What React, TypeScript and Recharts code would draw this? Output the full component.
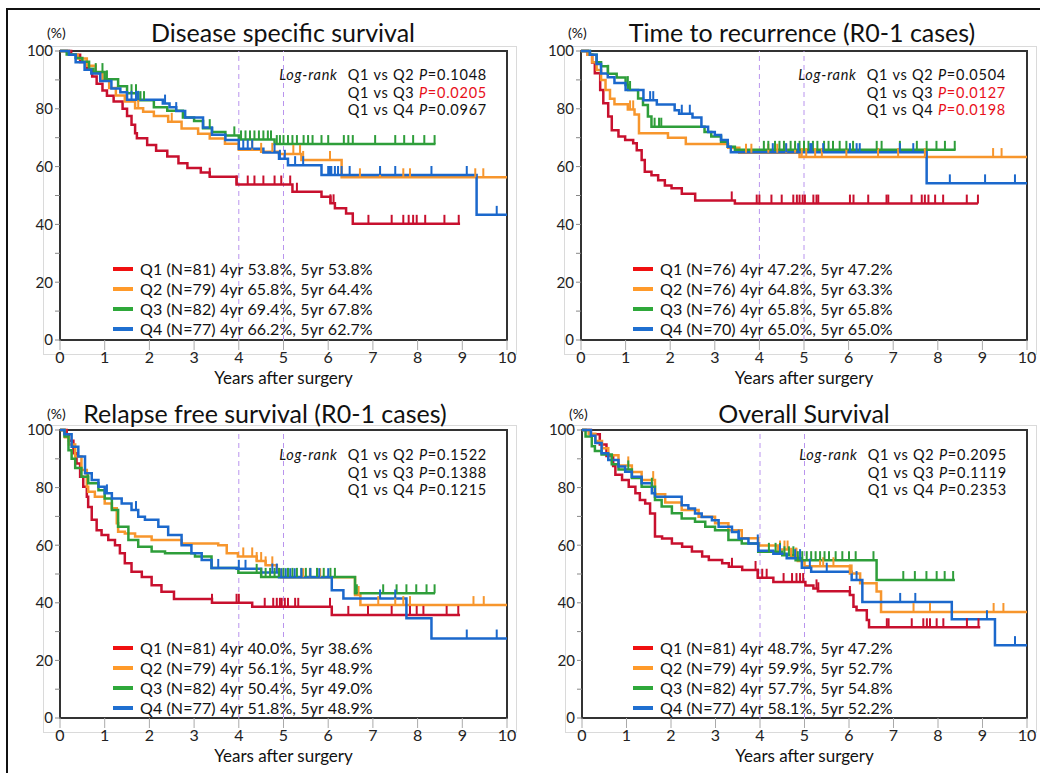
import React from "react";
import { ComposedChart, Line, Scatter, XAxis, YAxis, ReferenceLine, ReferenceArea } from "recharts";

type Step = [number, number];

// ----- Disease specific survival -----
const dssQ1Steps: Step[] = [[0,100],[0.25,98.7],[0.45,96.2],[0.6,93.7],[0.72,91.2],[0.82,88.7],[0.95,86.3],[1.05,84.5],[1.2,82.5],[1.4,80],[1.5,77.5],[1.6,74.5],[1.68,71.5],[1.72,69.8],[1.95,67.5],[2.15,65.5],[2.4,63.5],[2.65,61.2],[2.85,59.5],[3.15,58],[3.35,56.5],[3.95,53.8],[5.2,51.3],[5.85,49.6],[6.05,47.3],[6.15,45.6],[6.4,43.8],[6.55,40.2]];
const dssQ1Censor = [3.35,3.95,4.2,4.35,4.55,4.8,4.95,5.15,5.3,6.05,6.12,6.9,7.42,7.68,7.8,7.9,7.98,8.17,8.6,8.92];
const dssQ2Steps: Step[] = [[0,100],[0.2,98.7],[0.4,97.4],[0.6,94.9],[0.8,92.3],[0.95,89.7],[1.1,87.2],[1.25,84.6],[1.45,82.5],[1.68,80.2],[1.86,79],[2.1,77.5],[2.42,75.5],[2.72,73.2],[3.09,71.4],[3.35,69.7],[3.69,67.9],[4.0,65.8],[4.5,65.1],[4.9,64.4],[5.4,62.3],[6.3,56.3]];
const dssQ2Censor = [1.75,2.5,4.3,4.5,4.75,5.22,5.37,5.44,6.04,6.71,7.16,7.68,7.83,9.29,9.47];
const dssQ3Steps: Step[] = [[0,100],[0.15,98.8],[0.35,97.6],[0.5,96.3],[0.65,93.9],[0.75,92.7],[1.0,90.2],[1.3,87.8],[1.5,85.4],[1.75,83],[2.1,80.5],[2.4,79.3],[2.75,77],[3.0,75.8],[3.2,73.3],[3.4,72],[3.7,70.8],[4.0,69.4],[4.8,67.8]];
const dssQ3Censor = [0.8,0.95,1.05,1.6,1.7,1.75,1.8,1.88,3.35,3.9,4.05,4.15,4.25,4.35,4.45,4.55,4.65,4.72,4.85,4.92,5.0,5.1,5.2,5.3,5.45,5.55,5.65,5.85,6.0,6.35,6.45,6.55,7.05,7.5,7.7,7.9,8.15,8.38];
const dssQ4Steps: Step[] = [[0,100],[0.2,98.7],[0.35,96.1],[0.55,93.5],[0.7,92.2],[0.9,89.6],[1.15,87],[1.35,85.7],[1.5,83.1],[2.3,81.8],[2.45,80.5],[2.6,79.2],[2.8,77],[3.2,73.5],[3.4,71],[3.7,69.2],[4.0,66.2],[4.55,64.9],[4.9,62.7],[5.1,60.5],[5.85,57.1],[9.32,43.3]];
const dssQ4Censor = [1.6,1.7,1.75,2.35,2.6,4.1,4.2,4.3,4.8,4.92,5.03,5.26,5.44,6.0,6.04,6.07,6.15,6.22,6.3,6.48,7.16,7.5,8.31,9.1,9.77];

// ----- Time to recurrence -----
const ttrQ1Steps: Step[] = [[0,100],[0.15,98.7],[0.25,96],[0.31,92.3],[0.43,86.5],[0.5,81.9],[0.61,77.3],[0.69,72.6],[0.84,70.4],[0.99,69.2],[1.17,68.1],[1.25,65.7],[1.36,62.3],[1.43,58.2],[1.58,57],[1.73,55.3],[1.88,53.5],[2.03,52.5],[2.26,50.6],[2.56,48.3],[3.45,47.2]];
const ttrQ1Censor = [3.38,3.94,4.0,4.27,4.5,4.76,4.84,4.9,4.97,5.02,5.21,5.28,5.32,6.03,6.11,6.44,6.85,6.89,7.41,7.64,7.71,7.79,7.94,8.12,8.65,8.9];
const ttrQ2Steps: Step[] = [[0,100],[0.15,98.7],[0.25,96.1],[0.35,93.4],[0.45,90],[0.55,86.5],[0.65,83.5],[0.75,81.6],[1.05,79.8],[1.2,78],[1.3,71.5],[1.95,70],[2.35,67.8],[3.3,66.5],[3.55,64.8],[4.9,63.3]];
const ttrQ2Censor = [1.1,1.17,3.7,3.82,4.2,4.4,4.6,4.8,4.95,5.05,5.25,5.4,5.95,6.66,7.11,7.71,9.24,9.43];
const ttrQ3Steps: Step[] = [[0,100],[0.2,98.7],[0.35,96.1],[0.45,94.7],[0.6,92.1],[0.8,90.8],[1.0,88.2],[1.06,86.5],[1.28,83.6],[1.39,81.3],[1.5,77.3],[1.58,73.8],[2.77,72],[2.92,70.4],[3.14,68.6],[3.29,66.9],[3.45,65.8]];
const ttrQ3Censor = [0.61,1.05,1.1,1.65,1.75,1.8,4.1,4.2,4.35,4.45,4.55,4.7,4.8,4.9,5.0,5.1,5.2,5.3,5.45,5.55,5.65,5.8,5.95,6.1,6.63,6.74,7.15,7.53,7.75,7.97,8.16,8.38];
const ttrQ4Steps: Step[] = [[0,100],[0.2,98.7],[0.35,95.5],[0.45,92.2],[0.6,90.9],[0.75,88.9],[1.0,86.5],[1.4,83],[1.7,81.5],[2.1,79.5],[2.2,78.3],[2.5,77],[2.7,73.8],[2.85,72],[3.0,70.9],[3.14,69.2],[3.29,66.9],[3.36,65],[7.75,54.2]];
const ttrQ4Censor = [1.55,1.62,2.26,2.44,4.3,4.6,4.87,5.14,5.17,5.43,6.03,6.18,6.25,7.15,7.45,8.27,9.06,9.73];

// ----- Relapse free survival -----
const rfsQ1Steps: Step[] = [[0,100],[0.15,98.5],[0.2,96.3],[0.3,91.9],[0.37,88.4],[0.45,83.8],[0.52,80.3],[0.6,76.8],[0.63,73.3],[0.71,68.8],[0.82,65.2],[0.93,63.5],[1.08,61.8],[1.23,60],[1.34,57.2],[1.45,53.7],[1.6,50.8],[1.83,49],[2.05,46.1],[2.27,43.8],[2.55,41.3],[3.4,40.0],[4.3,38.6],[6.08,35.8]];
const rfsQ1Censor = [3.4,3.95,4.0,4.58,4.77,4.85,4.92,4.96,5.03,5.1,5.26,5.33,6.04,6.45,6.89,7.42,7.83,7.98,8.13,8.65,8.91];
const rfsQ2Steps: Step[] = [[0,100],[0.11,97.5],[0.2,95],[0.34,90.8],[0.48,86.1],[0.6,80.3],[0.63,78.6],[0.78,76.8],[1.0,74.5],[1.16,72.8],[1.27,67.6],[1.3,64.7],[1.45,64.1],[1.68,63],[2.05,61.8],[2.72,60.6],[3.54,60],[3.73,57.2],[3.98,56.1],[4.4,54.5],[4.6,53],[4.85,51.5],[4.95,48.9],[6.6,42.7],[6.72,39.2]];
const rfsQ2Censor = [4.1,4.3,4.4,4.5,4.6,4.75,5.44,5.59,5.82,6.68,7.12,7.5,7.68,7.83,9.25,9.48];
const rfsQ3Steps: Step[] = [[0,100],[0.1,97.7],[0.19,93],[0.26,90],[0.34,86.8],[0.48,83.8],[0.63,81.5],[0.86,79.1],[1.0,76.2],[1.16,72.2],[1.3,66.4],[1.53,61.8],[1.75,59.5],[2.05,57.8],[2.35,57.2],[3.02,56.1],[3.39,52.1],[3.99,50.4],[4.5,49],[6.6,43.3]];
const rfsQ3Censor = [0.63,4.4,4.5,4.6,4.7,4.8,4.9,5.0,5.1,5.2,5.3,5.4,5.5,5.6,5.75,5.9,6.05,6.15,6.64,7.23,7.53,7.75,7.97,8.2,8.38];
const rfsQ4Steps: Step[] = [[0,100],[0.1,98.5],[0.26,94.2],[0.41,90.8],[0.56,85],[0.71,82.6],[0.86,80.3],[1.0,78],[1.16,76.2],[1.38,74.5],[1.6,72.2],[1.75,69.9],[1.9,68.8],[2.2,66.4],[2.42,63.5],[2.72,60],[2.94,57.2],[3.17,54.9],[3.39,52.1],[3.95,51.8],[4.5,50.5],[4.9,48.9],[6.08,44.4],[6.34,41.5],[7.75,34.6],[8.31,27.6]];
const rfsQ4Censor = [1.05,1.7,3.54,4.0,4.15,4.75,4.85,4.95,5.05,5.15,5.25,5.4,5.6,5.8,6.0,7.16,7.5,9.1,9.77];

// ----- Overall survival -----
const osQ1Steps: Step[] = [[0,100],[0.2,98.5],[0.4,95],[0.55,91],[0.7,87.5],[0.75,84.5],[0.9,82.6],[1.05,80.3],[1.2,78],[1.3,75.7],[1.42,74.5],[1.53,71],[1.64,63],[1.8,62.3],[2.02,60.6],[2.25,59.5],[2.47,57.8],[2.7,56.1],[2.85,54.9],[3.15,53.7],[3.3,52.5],[3.6,51.4],[3.95,48.7],[4.3,47.2],[5.02,46],[5.2,45],[5.3,44],[6.02,42.7],[6.1,38.6],[6.17,37.4],[6.4,34],[6.45,31.5]];
const osQ1Censor = [3.37,3.9,3.95,4.05,4.15,4.53,4.72,4.82,4.9,4.97,5.27,5.31,6.02,6.85,6.89,7.41,7.67,7.75,7.82,7.97,8.12,8.65,8.91];
const osQ2Steps: Step[] = [[0,100],[0.15,98.7],[0.3,96.2],[0.45,93.7],[0.59,91.2],[0.82,87.7],[1.12,85.4],[1.34,82.6],[1.64,77.7],[1.87,74.8],[2.24,72.2],[2.62,69.9],[2.99,67.6],[3.29,65.2],[3.59,62.4],[3.96,59.9],[4.4,58.5],[4.7,56],[4.85,54.5],[5.0,52.7],[6.02,50.2],[6.25,46.8],[6.62,43.9],[6.72,36.8]];
const osQ2Censor = [1.04,1.6,4.45,4.55,4.62,4.7,4.8,4.82,5.35,5.42,5.65,6.02,6.06,7.45,7.82,9.25,9.47];
const osQ3Steps: Step[] = [[0,100],[0.08,97.7],[0.22,94.4],[0.29,92.7],[0.44,91.5],[0.67,88.1],[0.82,86.3],[1.12,83.3],[1.34,80.3],[1.64,75.7],[1.79,73.4],[2.02,71.1],[2.24,69.3],[2.54,68.1],[2.77,66.4],[2.99,65.2],[3.29,61.8],[3.59,60.6],[3.96,57.7],[4.5,56.5],[4.8,54.8],[6.62,47.9]];
const osQ3Censor = [0.67,1.04,1.57,1.64,4.2,4.35,4.45,4.55,4.65,4.75,4.85,4.95,5.05,5.15,5.25,5.35,5.45,5.55,5.7,5.85,6.0,6.15,6.55,7.22,7.48,7.74,7.97,8.15,8.34];
const osQ4Steps: Step[] = [[0,100],[0.2,98],[0.3,95.5],[0.44,91.9],[0.59,89.6],[0.82,87.3],[0.97,85.5],[1.12,83.8],[1.34,81.5],[1.57,78],[1.64,76.8],[2.24,73.9],[2.39,72.7],[2.54,71],[2.69,69.8],[2.92,68.7],[3.07,66.4],[3.37,64.6],[3.52,62.3],[3.74,60.6],[3.96,58.1],[4.3,57],[4.6,55.5],[4.94,52.2],[5.15,50.8],[6.06,47.9],[6.3,40.3],[8.31,34.3],[9.28,25.3]];
const osQ4Censor = [1.64,3.52,3.95,4.45,4.79,4.9,5.12,5.5,6.17,7.15,7.49,9.1,9.73];

// last follow-up time of each group (Q1..Q4)
const dssEnd = [8.95, 10, 8.4, 10];
const ttrEnd = [8.9, 10, 8.4, 10];
const rfsEnd = [8.95, 10, 8.39, 10];
const osEnd = [8.95, 10, 8.38, 10];

const titles = ["Disease specific survival", "Time to recurrence (R0-1 cases)", "Relapse free survival (R0-1 cases)", "Overall Survival"];
const groupNames = ["Q1", "Q2", "Q3", "Q4"];
const dssLegend = ["Q1 (N=81) 4yr 53.8%, 5yr 53.8%", "Q2 (N=79) 4yr 65.8%, 5yr 64.4%", "Q3 (N=82) 4yr 69.4%, 5yr 67.8%", "Q4 (N=77) 4yr 66.2%, 5yr 62.7%"];
const ttrLegend = ["Q1 (N=76) 4yr 47.2%, 5yr 47.2%", "Q2 (N=76) 4yr 64.8%, 5yr 63.3%", "Q3 (N=76) 4yr 65.8%, 5yr 65.8%", "Q4 (N=70) 4yr 65.0%, 5yr 65.0%"];
const rfsLegend = ["Q1 (N=81) 4yr 40.0%, 5yr 38.6%", "Q2 (N=79) 4yr 56.1%, 5yr 48.9%", "Q3 (N=82) 4yr 50.4%, 5yr 49.0%", "Q4 (N=77) 4yr 51.8%, 5yr 48.9%"];
const osLegend = ["Q1 (N=81) 4yr 48.7%, 5yr 47.2%", "Q2 (N=79) 4yr 59.9%, 5yr 52.7%", "Q3 (N=82) 4yr 57.7%, 5yr 54.8%", "Q4 (N=77) 4yr 58.1%, 5yr 52.2%"];
const dssP = ["0.1048", "0.0205", "0.0967"];
const ttrP = ["0.0504", "0.0127", "0.0198"];
const rfsP = ["0.1522", "0.1388", "0.1215"];
const osP = ["0.2095", "0.1119", "0.2353"];

const xTicks = [0, 1, 2, 3, 4, 5, 6, 7, 8, 9, 10];
const yTicks = [0, 10, 20, 30, 40, 50, 60, 70, 80, 90, 100];

const FONT = "Lato, 'Open Sans', sans-serif";
const lineColors = ["#c8102e", "#f7962d", "#2e9e3a", "#1b68cc"];
const legendColors = ["#f01010", "#ff9a2a", "#2ea83a", "#1f6fd0"];
const DASH = "#b994ee";

function valueAt(steps: Step[], t: number) {
  let v = steps[0][1];
  for (const [st, sv] of steps) if (st <= t) v = sv;
  return v;
}

function buildSeries(steps: Step[][], censors: number[][], ends: number[]) {
  return steps.map((st, i) => ({
    line: [...st.map(([t, s]) => ({ t, s })), { t: ends[i], s: st[st.length - 1][1] }],
    censor: censors[i].map((t) => ({ t, s: valueAt(st, t) })),
    color: lineColors[i],
  }));
}

const panels = [
  {
    title: titles[0], left: 60, top: 51, w: 447, h: 289, titleX: 283, titleY: 32,
    series: buildSeries([dssQ1Steps, dssQ2Steps, dssQ3Steps, dssQ4Steps], [dssQ1Censor, dssQ2Censor, dssQ3Censor, dssQ4Censor], dssEnd),
    legend: dssLegend, pvals: dssP, sig: [false, true, false], legendX: 113, legendY: 269, logRight: 487, logY: 75,
  },
  {
    title: titles[1], left: 581, top: 51, w: 446, h: 289, titleX: 802, titleY: 32,
    series: buildSeries([ttrQ1Steps, ttrQ2Steps, ttrQ3Steps, ttrQ4Steps], [ttrQ1Censor, ttrQ2Censor, ttrQ3Censor, ttrQ4Censor], ttrEnd),
    legend: ttrLegend, pvals: ttrP, sig: [false, true, true], legendX: 633, legendY: 269, logRight: 1006, logY: 75,
  },
  {
    title: titles[2], left: 60, top: 430, w: 447, h: 288, titleX: 265, titleY: 413,
    series: buildSeries([rfsQ1Steps, rfsQ2Steps, rfsQ3Steps, rfsQ4Steps], [rfsQ1Censor, rfsQ2Censor, rfsQ3Censor, rfsQ4Censor], rfsEnd),
    legend: rfsLegend, pvals: rfsP, sig: [false, false, false], legendX: 113, legendY: 648, logRight: 487, logY: 455,
  },
  {
    title: titles[3], left: 582, top: 430, w: 445, h: 288, titleX: 804, titleY: 413,
    series: buildSeries([osQ1Steps, osQ2Steps, osQ3Steps, osQ4Steps], [osQ1Censor, osQ2Censor, osQ3Censor, osQ4Censor], osEnd),
    legend: osLegend, pvals: osP, sig: [false, false, false], legendX: 633, legendY: 648, logRight: 1007, logY: 455,
  },
];

const abs = (extra: React.CSSProperties): React.CSSProperties => ({ position: "absolute", fontFamily: FONT, color: "#111", whiteSpace: "nowrap", ...extra });

function Panel({ p }: { p: (typeof panels)[number] }) {
  return (
    <>
      <div style={abs({ left: p.left - 17, top: p.top - 5, width: p.w + 25, height: p.h + 18, border: "1px solid #dadada" })} />
      <div style={abs({ left: p.left - 50, top: p.top - 10 })}>
        <ComposedChart width={p.w + 60} height={p.h + 40} margin={{ top: 10, right: 10, bottom: 0, left: 0 }}>
          <XAxis type="number" dataKey="t" domain={[0, 10]} ticks={xTicks} axisLine={false} tickSize={10}
            tickLine={{ stroke: "#aaa" }} tick={{ fontSize: 16, fill: "#222", fontFamily: FONT }} height={30} />
          <YAxis type="number" dataKey="s" domain={[0, 100]} ticks={yTicks} axisLine={false} tickSize={5} width={50}
            tickLine={{ stroke: "#888" }} tick={{ fontSize: 15, fill: "#222", fontFamily: FONT }}
            tickFormatter={(v: number) => (v % 20 === 0 ? String(v) : "")} />
          <ReferenceArea x1={0} x2={10} y1={0} y2={100} fill="none" stroke="#333" strokeWidth={2} />
          <ReferenceLine key="r4" x={4} stroke={DASH} strokeWidth={1} strokeDasharray="5 4" />
          <ReferenceLine key="r5" x={5} stroke={DASH} strokeWidth={1} strokeDasharray="5 4" />
          {p.series.map((s, i) => (
            <Line key={"l" + i} data={s.line} dataKey="s" type="stepAfter" stroke={s.color} strokeWidth={2.5}
              dot={false} activeDot={false} isAnimationActive={false} />
          ))}
          {p.series.map((s, i) => (
            <Scatter key={"c" + i} data={s.censor} dataKey="s" fill={s.color} isAnimationActive={false}
              shape={(props: any) => (
                <line x1={props.cx} x2={props.cx} y1={props.cy} y2={props.cy - 9} stroke={s.color} strokeWidth={2} />
              )} />
          ))}
        </ComposedChart>
      </div>
      <div style={abs({ left: p.titleX, transform: "translateX(-50%)", top: p.titleY - 15, fontSize: 25, lineHeight: "30px" })}>{p.title}</div>
      <div style={abs({ left: p.left - 13, top: p.titleY - 7, fontSize: 14, lineHeight: "16px" })}>(%)</div>
      <div style={abs({ left: p.left + p.w / 2, transform: "translateX(-50%)", top: p.top + p.h + 28, fontSize: 17, lineHeight: "20px" })}>Years after surgery</div>
      <div style={abs({ right: 1040 - p.logRight, top: p.logY - 9, fontSize: 14.5, letterSpacing: 0.75, lineHeight: "17.5px", textAlign: "right" })}>
        {p.pvals.map((pv, i) => (
          <React.Fragment key={"p" + i}>
            {i === 0 && <i style={{ marginRight: 10 }}>Log-rank</i>}
            {"Q1 vs " + groupNames[i + 1] + " "}
            <span style={{ color: p.sig[i] ? "#e8101a" : "#111" }}><i>P</i>{"=" + pv}</span>
            {i < p.pvals.length - 1 && <br />}
          </React.Fragment>
        ))}
      </div>
      {p.legend.map((txt, i) => (
        <React.Fragment key={"g" + i}>
          <div style={abs({ left: p.legendX, top: p.legendY + i * 20 - 2, width: 20, height: 4, background: legendColors[i] })} />
          <div style={abs({ left: p.legendX + 27, top: p.legendY + i * 20 - 9, fontSize: 16, lineHeight: "18px", letterSpacing: 0.1 })}>{txt}</div>
        </React.Fragment>
      ))}
    </>
  );
}

export default function App() {
  return (
    <div style={{ position: "absolute", left: 0, top: 0, width: 1040, height: 773, background: "#fff", overflow: "hidden" }}>
      <div style={{ position: "absolute", left: 6, top: 8, width: 1040, height: 2, background: "#111" }} />
      <div style={{ position: "absolute", left: 6, top: 8, width: 2, height: 773, background: "#111" }} />
      {panels.map((p, i) => (
        <Panel key={i} p={p} />
      ))}
    </div>
  );
}
